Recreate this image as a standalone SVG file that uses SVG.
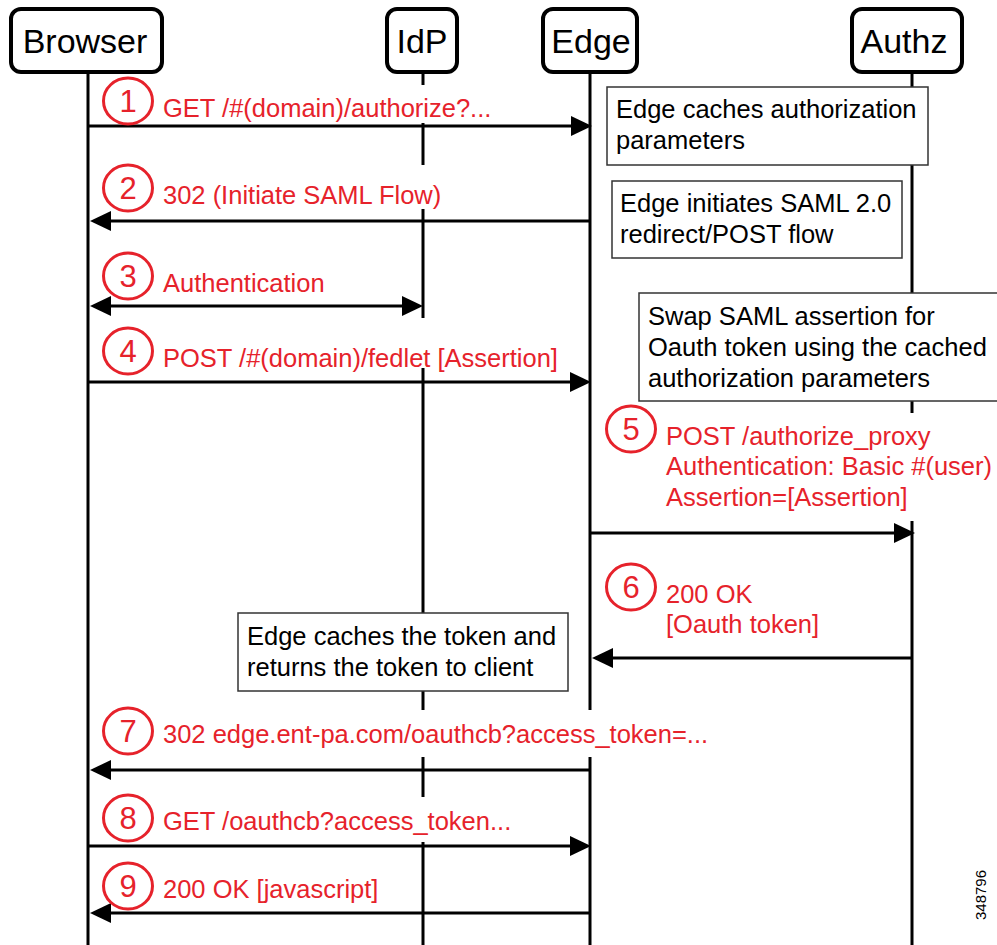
<svg xmlns="http://www.w3.org/2000/svg" width="997" height="945" viewBox="0 0 997 945">
  <style>
    .hdr{fill:#fff;stroke:#000;stroke-width:4}
    .hdrt{font-family:"Liberation Sans",Arial,sans-serif;font-size:34px;fill:#000;text-anchor:middle}
    .life{stroke:#000;stroke-width:3;fill:none}
    .note{fill:#fff;stroke:#333;stroke-width:1.5}
    .notet{font-family:"Liberation Sans",Arial,sans-serif;font-size:25.5px;fill:#000}
    .bg{fill:#fff;stroke:none}
    .msg{stroke:#000;stroke-width:3;fill:none;marker-end:url(#ah)}
    .lbl{font-family:"Liberation Sans",Arial,sans-serif;font-size:25.5px;fill:#E6222B}
    .num{fill:#fff;stroke:#E6222B;stroke-width:3}
    .numt{font-family:"Liberation Sans",Arial,sans-serif;font-size:31px;fill:#E6222B;text-anchor:middle}
  </style>
  <defs>
    <marker id="ah" markerUnits="userSpaceOnUse" markerWidth="22" markerHeight="22" refX="11" refY="10" orient="auto-start-reverse" viewBox="0 0 22 20">
      <path d="M0,0 L21,10 L0,20 z" fill="#000"/>
    </marker>
  </defs>
  <rect width="997" height="945" fill="#fff"/>

  <g id="browser">
    <line class="life" x1="88" y1="72" x2="88" y2="945"/>
    <rect class="hdr" x="11" y="9" width="151" height="63" rx="10"/>
    <text class="hdrt" x="85" y="53">Browser</text>
  </g>
  <g id="idp">
    <line class="life" x1="423" y1="72" x2="423" y2="945"/>
    <rect class="hdr" x="387" y="9" width="70" height="63" rx="10"/>
    <text class="hdrt" x="422" y="53">IdP</text>
  </g>
  <g id="edge">
    <line class="life" x1="590" y1="72" x2="590" y2="945"/>
    <rect class="hdr" x="543" y="9" width="94" height="63" rx="10"/>
    <text class="hdrt" x="591" y="53">Edge</text>
  </g>
  <g id="authz">
    <line class="life" x1="912" y1="72" x2="912" y2="945"/>
    <rect class="hdr" x="852" y="9" width="110" height="63" rx="10"/>
    <text class="hdrt" x="904" y="53">Authz</text>
  </g>

  <g id="note1">
    <rect class="note" x="607" y="87" width="321" height="78"/>
    <text class="notet" x="616" y="118">Edge caches authorization</text>
    <text class="notet" x="616" y="149">parameters</text>
  </g>
  <g id="note2">
    <rect class="note" x="612" y="181" width="290" height="77"/>
    <text class="notet" x="620" y="212">Edge initiates SAML 2.0</text>
    <text class="notet" x="620" y="243">redirect/POST flow</text>
  </g>
  <g id="note3">
    <rect class="note" x="639" y="293" width="370" height="108"/>
    <text class="notet" x="648" y="325">Swap SAML assertion for</text>
    <text class="notet" x="648" y="356">Oauth token using the cached</text>
    <text class="notet" x="648" y="387">authorization parameters</text>
  </g>
  <g id="note4">
    <rect class="note" x="238" y="613" width="330" height="78"/>
    <text class="notet" x="247" y="645">Edge caches the token and</text>
    <text class="notet" x="247" y="676">returns the token to client</text>
  </g>

  <g id="connectors">
    <g id="m1">
      <rect class="bg" x="160" y="85" width="337" height="38"/>
      <line class="msg" x1="88" y1="126" x2="582" y2="126"/>
      <text class="lbl" x="163" y="117">GET /#(domain)/authorize?...</text>
      <ellipse class="num" cx="128" cy="101" rx="24.5" ry="23"/>
      <text class="numt" x="128" y="112">1</text>
    </g>
    <g id="m2">
      <rect class="bg" x="160" y="165" width="287" height="44"/>
      <line class="msg" x1="590" y1="221" x2="100" y2="221"/>
      <text class="lbl" x="163" y="204">302 (Initiate SAML Flow)</text>
      <ellipse class="num" cx="128" cy="188" rx="24.5" ry="23"/>
      <text class="numt" x="128" y="199">2</text>
    </g>
    <g id="m3">
      <line class="msg" style="marker-start:url(#ah)" x1="100" y1="306" x2="413" y2="306"/>
      <text class="lbl" x="163" y="292">Authentication</text>
      <ellipse class="num" cx="128" cy="276" rx="24.5" ry="23"/>
      <text class="numt" x="128" y="287">3</text>
    </g>
    <g id="m4">
      <rect class="bg" x="160" y="318" width="405" height="50"/>
      <line class="msg" x1="88" y1="382" x2="581" y2="382"/>
      <text class="lbl" x="163" y="367">POST /#(domain)/fedlet [Assertion]</text>
      <ellipse class="num" cx="128" cy="351" rx="24.5" ry="23"/>
      <text class="numt" x="128" y="362">4</text>
    </g>
    <g id="m5">
      <rect class="bg" x="662" y="413" width="335" height="108"/>
      <line class="msg" x1="590" y1="533" x2="905" y2="533"/>
      <text class="lbl" x="666" y="445">POST /authorize_proxy</text>
      <text class="lbl" x="666" y="475">Authentication: Basic #(user)</text>
      <text class="lbl" x="666" y="506">Assertion=[Assertion]</text>
      <ellipse class="num" cx="631" cy="429" rx="24.5" ry="23"/>
      <text class="numt" x="631" y="440">5</text>
    </g>
    <g id="m6">
      <line class="msg" x1="912" y1="658" x2="602" y2="658"/>
      <text class="lbl" x="666" y="603">200 OK</text>
      <text class="lbl" x="666" y="633">[Oauth token]</text>
      <ellipse class="num" cx="631" cy="587" rx="24.5" ry="23"/>
      <text class="numt" x="631" y="598">6</text>
    </g>
    <g id="m7">
      <rect class="bg" x="160" y="710" width="552" height="47"/>
      <line class="msg" x1="590" y1="770" x2="100" y2="770"/>
      <text class="lbl" x="163" y="743">302 edge.ent-pa.com/oauthcb?access_token=...</text>
      <ellipse class="num" cx="128" cy="731" rx="24.5" ry="23"/>
      <text class="numt" x="128" y="742">7</text>
    </g>
    <g id="m8">
      <rect class="bg" x="160" y="797" width="374" height="45"/>
      <line class="msg" x1="88" y1="846" x2="581" y2="846"/>
      <text class="lbl" x="163" y="830">GET /oauthcb?access_token...</text>
      <ellipse class="num" cx="128" cy="818" rx="24.5" ry="23"/>
      <text class="numt" x="128" y="829">8</text>
    </g>
    <g id="m9">
      <line class="msg" x1="590" y1="913" x2="100" y2="913"/>
      <text class="lbl" x="163" y="898">200 OK [javascript]</text>
      <ellipse class="num" cx="128" cy="886" rx="24.5" ry="23"/>
      <text class="numt" x="128" y="897">9</text>
    </g>
  </g>

  <text transform="translate(986,895) rotate(-90)" font-family="'Liberation Sans',Arial,sans-serif" font-size="15" text-anchor="middle" fill="#000">348796</text>
</svg>
